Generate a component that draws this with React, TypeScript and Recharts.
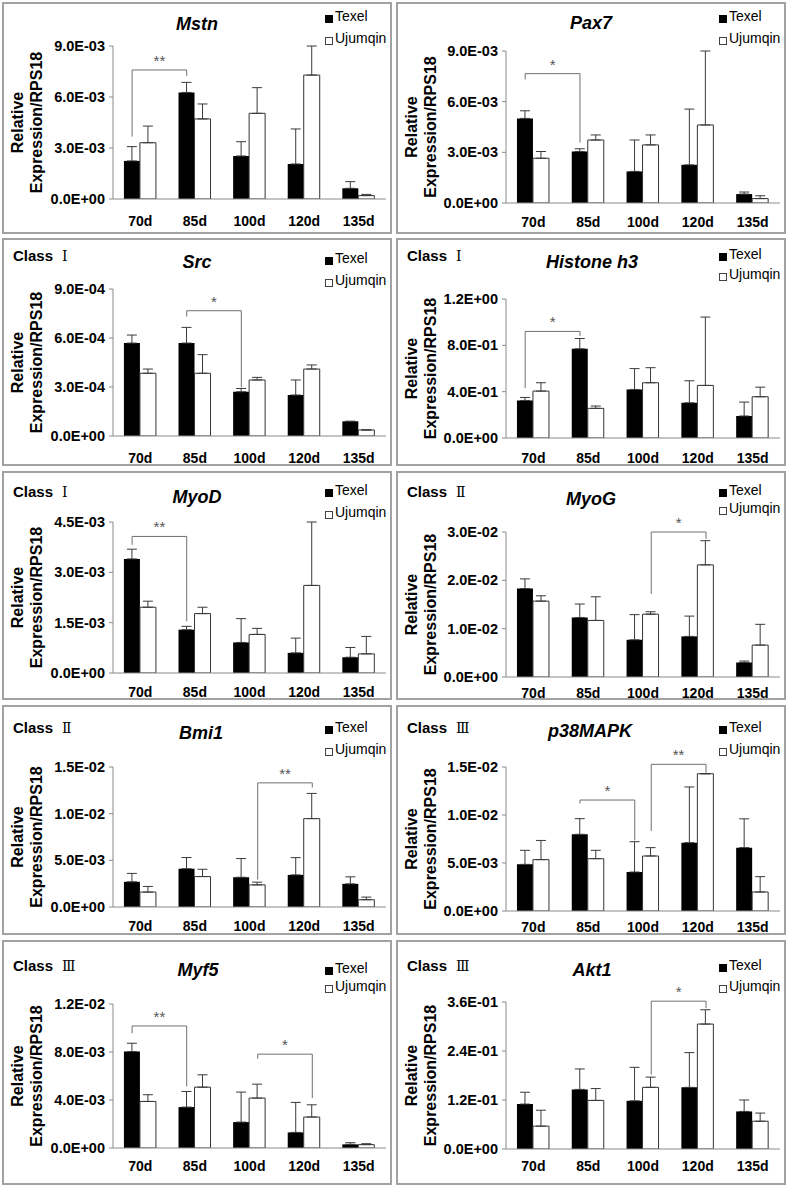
import React from 'react';
import { BarChart, Bar, XAxis, YAxis, ErrorBar, ReferenceLine, Legend } from 'recharts';

const FONT = '"Liberation Sans", Arial, Helvetica, sans-serif';

const categories = ['70d', '85d', '100d', '120d', '135d'];
const seriesNames = ['Texel', 'Ujumqin'];

// ---- Mstn ----
const mstnTexel = [2.24e-3, 6.27e-3, 2.53e-3, 2.06e-3, 0.63e-3];
const mstnTexelErr = [0.84e-3, 0.59e-3, 0.84e-3, 2.06e-3, 0.39e-3];
const mstnUjumqin = [3.31e-3, 4.71e-3, 5.04e-3, 7.29e-3, 0.2e-3];
const mstnUjumqinErr = [0.98e-3, 0.88e-3, 1.51e-3, 1.71e-3, 0.07e-3];
const mstnTicks = [0, 3e-3, 6e-3, 9e-3];
const mstnBrackets = [{ from: '70d', fromSeries: 'Texel', to: '85d', toSeries: 'Texel', top: 7.59e-3, fromEnd: 3.67e-3, toEnd: 7.24e-3, label: '**' }];

// ---- Pax7 ----
const pax7Texel = [5.01e-3, 3.05e-3, 1.87e-3, 2.26e-3, 0.53e-3];
const pax7TexelErr = [0.45e-3, 0.16e-3, 1.86e-3, 3.3e-3, 0.12e-3];
const pax7Ujumqin = [2.65e-3, 3.73e-3, 3.44e-3, 4.62e-3, 0.26e-3];
const pax7UjumqinErr = [0.4e-3, 0.3e-3, 0.59e-3, 4.38e-3, 0.17e-3];
const pax7Ticks = [0, 3e-3, 6e-3, 9e-3];
const pax7Brackets = [{ from: '70d', fromSeries: 'Texel', to: '85d', toSeries: 'Texel', top: 7.66e-3, fromEnd: 7.31e-3, toEnd: 3.58e-3, label: '*' }];

// ---- Src ----
const srcTexel = [5.69e-4, 5.69e-4, 2.71e-4, 2.51e-4, 0.9e-4];
const srcTexelErr = [0.49e-4, 0.96e-4, 0.2e-4, 0.92e-4, 0];
const srcUjumqin = [3.84e-4, 3.84e-4, 3.43e-4, 4.1e-4, 0.37e-4];
const srcUjumqinErr = [0.26e-4, 1.14e-4, 0.16e-4, 0.25e-4, 0];
const srcTicks = [0, 3e-4, 6e-4, 9e-4];
const srcBrackets = [{ from: '85d', fromSeries: 'Texel', to: '100d', toSeries: 'Texel', top: 7.67e-4, fromEnd: 7.31e-4, toEnd: 2.98e-4, label: '*' }];

// ---- Histone h3 ----
const h3Texel = [0.324, 0.77, 0.419, 0.304, 0.19];
const h3TexelErr = [0.026, 0.089, 0.18, 0.19, 0.12];
const h3Ujumqin = [0.405, 0.256, 0.477, 0.454, 0.356];
const h3UjumqinErr = [0.072, 0.02, 0.13, 0.59, 0.083];
const h3Ticks = [0, 0.4, 0.8, 1.2];
const h3Brackets = [{ from: '70d', fromSeries: 'Texel', to: '85d', toSeries: 'Texel', top: 0.92, fromEnd: 0.43, toEnd: 0.88, label: '*' }];

// ---- MyoD ----
const myodTexel = [3.4e-3, 1.29e-3, 0.91e-3, 0.6e-3, 0.47e-3];
const myodTexelErr = [0.29e-3, 0.1e-3, 0.71e-3, 0.44e-3, 0.29e-3];
const myodUjumqin = [1.96e-3, 1.77e-3, 1.15e-3, 2.61e-3, 0.57e-3];
const myodUjumqinErr = [0.18e-3, 0.19e-3, 0.18e-3, 1.89e-3, 0.52e-3];
const myodTicks = [0, 1.5e-3, 3e-3, 4.5e-3];
const myodBrackets = [{ from: '70d', fromSeries: 'Texel', to: '85d', toSeries: 'Texel', top: 4.07e-3, fromEnd: 3.82e-3, toEnd: 1.54e-3, label: '**' }];

// ---- MyoG ----
const myogTexel = [1.83e-2, 1.23e-2, 0.77e-2, 0.84e-2, 0.3e-2];
const myogTexelErr = [0.2e-2, 0.28e-2, 0.52e-2, 0.42e-2, 0.03e-2];
const myogUjumqin = [1.57e-2, 1.17e-2, 1.3e-2, 2.32e-2, 0.66e-2];
const myogUjumqinErr = [0.11e-2, 0.49e-2, 0.05e-2, 0.5e-2, 0.43e-2];
const myogTicks = [0, 1e-2, 2e-2, 3e-2];
const myogBrackets = [{ from: '100d', fromSeries: 'Ujumqin', to: '120d', toSeries: 'Ujumqin', top: 3.0e-2, fromEnd: 1.72e-2, toEnd: 2.86e-2, label: '*' }];

// ---- Bmi1 ----
const bmi1Texel = [2.7e-3, 4.1e-3, 3.19e-3, 3.44e-3, 2.48e-3];
const bmi1TexelErr = [0.9e-3, 1.2e-3, 2.0e-3, 1.85e-3, 0.75e-3];
const bmi1Ujumqin = [1.6e-3, 3.26e-3, 2.37e-3, 9.47e-3, 0.78e-3];
const bmi1UjumqinErr = [0.6e-3, 0.78e-3, 0.29e-3, 2.7e-3, 0.28e-3];
const bmi1Ticks = [0, 5e-3, 1e-2, 1.5e-2];
const bmi1Brackets = [{ from: '100d', fromSeries: 'Ujumqin', to: '120d', toSeries: 'Ujumqin', top: 1.33e-2, fromEnd: 2.94e-3, toEnd: 1.28e-2, label: '**' }];

// ---- p38MAPK ----
const p38Texel = [4.86e-3, 7.99e-3, 4.06e-3, 7.12e-3, 6.6e-3];
const p38TexelErr = [1.46e-3, 1.63e-3, 3.16e-3, 5.8e-3, 3.0e-3];
const p38Ujumqin = [5.35e-3, 5.45e-3, 5.73e-3, 14.3e-3, 1.98e-3];
const p38UjumqinErr = [2.0e-3, 0.87e-3, 0.87e-3, 0, 1.6e-3];
const p38Ticks = [0, 5e-3, 1e-2, 1.5e-2];
const p38Brackets = [
  { from: '85d', fromSeries: 'Texel', to: '100d', toSeries: 'Texel', top: 11.56e-3, fromEnd: 11.2e-3, toEnd: 7.36e-3, label: '*' },
  { from: '100d', fromSeries: 'Ujumqin', to: '120d', toSeries: 'Ujumqin', top: 15.28e-3, fromEnd: 8.33e-3, toEnd: 14.4e-3, label: '**' },
];

// ---- Myf5 ----
const myf5Texel = [8.04e-3, 3.41e-3, 2.16e-3, 1.3e-3, 0.3e-3];
const myf5TexelErr = [0.69e-3, 1.3e-3, 2.5e-3, 2.5e-3, 0.14e-3];
const myf5Ujumqin = [3.88e-3, 5.07e-3, 4.16e-3, 2.58e-3, 0.28e-3];
const myf5UjumqinErr = [0.56e-3, 1.03e-3, 1.16e-3, 1.02e-3, 0.08e-3];
const myf5Ticks = [0, 4e-3, 8e-3, 1.2e-2];
const myf5Brackets = [
  { from: '70d', fromSeries: 'Texel', to: '85d', toSeries: 'Texel', top: 10.17e-3, fromEnd: 9.56e-3, toEnd: 5.13e-3, label: '**' },
  { from: '100d', fromSeries: 'Ujumqin', to: '120d', toSeries: 'Ujumqin', top: 7.82e-3, fromEnd: 7.43e-3, toEnd: 4.16e-3, label: '*' },
];

// ---- Akt1 ----
const akt1Texel = [0.11, 0.146, 0.118, 0.151, 0.092];
const akt1TexelErr = [0.029, 0.05, 0.082, 0.085, 0.028];
const akt1Ujumqin = [0.056, 0.119, 0.151, 0.306, 0.068];
const akt1UjumqinErr = [0.039, 0.029, 0.025, 0.035, 0.02];
const akt1Ticks = [0, 0.12, 0.24, 0.36];
const akt1Brackets = [{ from: '100d', fromSeries: 'Ujumqin', to: '120d', toSeries: 'Ujumqin', top: 0.362, fromEnd: 0.182, toEnd: 0.345, label: '*' }];

const panels = [
  { gene: 'Mstn', cls: '', texel: mstnTexel, texelErr: mstnTexelErr, ujumqin: mstnUjumqin, ujumqinErr: mstnUjumqinErr, ticks: mstnTicks, brackets: mstnBrackets },
  { gene: 'Pax7', cls: '', texel: pax7Texel, texelErr: pax7TexelErr, ujumqin: pax7Ujumqin, ujumqinErr: pax7UjumqinErr, ticks: pax7Ticks, brackets: pax7Brackets },
  { gene: 'Src', cls: 'Ⅰ', texel: srcTexel, texelErr: srcTexelErr, ujumqin: srcUjumqin, ujumqinErr: srcUjumqinErr, ticks: srcTicks, brackets: srcBrackets },
  { gene: 'Histone h3', cls: 'Ⅰ', texel: h3Texel, texelErr: h3TexelErr, ujumqin: h3Ujumqin, ujumqinErr: h3UjumqinErr, ticks: h3Ticks, brackets: h3Brackets },
  { gene: 'MyoD', cls: 'Ⅰ', texel: myodTexel, texelErr: myodTexelErr, ujumqin: myodUjumqin, ujumqinErr: myodUjumqinErr, ticks: myodTicks, brackets: myodBrackets },
  { gene: 'MyoG', cls: 'Ⅱ', texel: myogTexel, texelErr: myogTexelErr, ujumqin: myogUjumqin, ujumqinErr: myogUjumqinErr, ticks: myogTicks, brackets: myogBrackets },
  { gene: 'Bmi1', cls: 'Ⅱ', texel: bmi1Texel, texelErr: bmi1TexelErr, ujumqin: bmi1Ujumqin, ujumqinErr: bmi1UjumqinErr, ticks: bmi1Ticks, brackets: bmi1Brackets },
  { gene: 'p38MAPK', cls: 'Ⅲ', texel: p38Texel, texelErr: p38TexelErr, ujumqin: p38Ujumqin, ujumqinErr: p38UjumqinErr, ticks: p38Ticks, brackets: p38Brackets },
  { gene: 'Myf5', cls: 'Ⅲ', texel: myf5Texel, texelErr: myf5TexelErr, ujumqin: myf5Ujumqin, ujumqinErr: myf5UjumqinErr, ticks: myf5Ticks, brackets: myf5Brackets },
  { gene: 'Akt1', cls: 'Ⅲ', texel: akt1Texel, texelErr: akt1TexelErr, ujumqin: akt1Ujumqin, ujumqinErr: akt1UjumqinErr, ticks: akt1Ticks, brackets: akt1Brackets },
];

// Layout (positions/sizes) kept separate from data
const layouts = [
  { x: 2, y: 2, h: 232, left: 111, top: 44, bottom: 197, titleX: 195, titleY: 28, classY: 0, legendY: 19, legendGap: 22, xGap: 17 },
  { x: 396, y: 2, h: 232, left: 110, top: 49, bottom: 201, titleX: 195, titleY: 27, classY: 0, legendY: 19, legendGap: 22, xGap: 14 },
  { x: 2, y: 238, h: 228, left: 111, top: 51, bottom: 198, titleX: 195, titleY: 30, classY: 23, legendY: 25, legendGap: 22, xGap: 17 },
  { x: 396, y: 238, h: 228, left: 110, top: 61, bottom: 200, titleX: 196, titleY: 30, classY: 23, legendY: 21, legendGap: 20, xGap: 15 },
  { x: 2, y: 471, h: 229, left: 111, top: 51, bottom: 202, titleX: 195, titleY: 32, classY: 26, legendY: 24, legendGap: 22, xGap: 14 },
  { x: 396, y: 471, h: 229, left: 110, top: 61, bottom: 206, titleX: 195, titleY: 34, classY: 26, legendY: 24, legendGap: 18, xGap: 11 },
  { x: 2, y: 705, h: 230, left: 111, top: 62, bottom: 202, titleX: 199, titleY: 34, classY: 28, legendY: 27, legendGap: 22, xGap: 14 },
  { x: 396, y: 705, h: 230, left: 110, top: 62, bottom: 206, titleX: 194, titleY: 32, classY: 28, legendY: 27, legendGap: 22, xGap: 11 },
  { x: 2, y: 940, h: 245, left: 111, top: 64, bottom: 208, titleX: 196, titleY: 36, classY: 31, legendY: 33, legendGap: 18, xGap: 13 },
  { x: 396, y: 940, h: 245, left: 110, top: 62, bottom: 209, titleX: 196, titleY: 36, classY: 31, legendY: 30, legendGap: 21, xGap: 12 },
];

const PANEL_W = 390;
const PLOT_RIGHT = 384;
const BAR_CENTER = { Texel: 0.35, Ujumqin: 0.65 } as Record<string, number>;
const AXIS_COLOR = '#8a8a8a';
const ERR_COLOR = '#3a3a3a';
const BRACKET_COLOR = '#6f6f6f';

const fmtSci = (v: number) => {
  if (v === 0) return '0.0E+00';
  const [m, e] = v.toExponential(1).split('e');
  const n = parseInt(e, 10);
  return `${m}E${n < 0 ? '-' : '+'}${String(Math.abs(n)).padStart(2, '0')}`;
};

// shape for a bracket segment: shifts the category-centred endpoints to the bar centres
const bracketShape = (dx1: number, dx2: number, label?: string) => (props: any) => {
  const { x1, y1, x2, y2 } = props;
  const ax = x1 + dx1;
  const bx = x2 + dx2;
  return (
    <g>
      <line x1={ax} y1={y1} x2={bx} y2={y2} stroke={BRACKET_COLOR} strokeWidth={1} />
      {label ? (
        <text x={(ax + bx) / 2} y={Math.min(y1, y2) - 4} textAnchor="middle" fontSize={15} fontFamily={FONT} fill="#555">{label}</text>
      ) : null}
    </g>
  );
};

const LegendBox = ({ gap }: { gap: number }) => (
  <svg width={80} height={50} style={{ display: 'block', overflow: 'visible' }}>
    <rect x={3} y={8} width={8} height={8} fill="#000" />
    <text x={13} y={14} fontSize={14} fontFamily={FONT} fill="#000">{seriesNames[0]}</text>
    <rect x={3.5} y={8.5 + gap} width={7} height={7} fill="#fff" stroke="#404040" />
    <text x={13} y={14 + gap} fontSize={14} fontFamily={FONT} fill="#000">{seriesNames[1]}</text>
  </svg>
);

function Panel({ p, L }: { p: any; L: any }) {
  const data = categories.map((c, i) => ({
    day: c,
    Texel: p.texel[i],
    Ujumqin: p.ujumqin[i],
    TexelErr: [0, p.texelErr[i]],
    UjumqinErr: [0, p.ujumqinErr[i]],
  }));
  const max = p.ticks[p.ticks.length - 1];
  const cy = (L.top + L.bottom) / 2;
  const band = (PLOT_RIGHT - L.left) / categories.length;
  const lines: any[] = [];
  p.brackets.forEach((b: any, k: number) => {
    const d1 = (BAR_CENTER[b.fromSeries] - 0.5) * band;
    const d2 = (BAR_CENTER[b.toSeries] - 0.5) * band;
    lines.push(
      <ReferenceLine key={`a${k}`} ifOverflow="visible"
        segment={[{ x: b.from, y: b.fromEnd }, { x: b.from, y: b.top }]} shape={bracketShape(d1, d1)} />,
      <ReferenceLine key={`b${k}`} ifOverflow="visible"
        segment={[{ x: b.from, y: b.top }, { x: b.to, y: b.top }]} shape={bracketShape(d1, d2, b.label)} />,
      <ReferenceLine key={`c${k}`} ifOverflow="visible"
        segment={[{ x: b.to, y: b.top }, { x: b.to, y: b.toEnd }]} shape={bracketShape(d2, d2)} />
    );
  });
  return (
    <div style={{ position: 'absolute', left: L.x, top: L.y, width: PANEL_W, height: L.h }}>
      <BarChart width={PANEL_W} height={L.h} data={data}
        margin={{ top: L.top, right: PANEL_W - PLOT_RIGHT, bottom: 0, left: 0 }}
        barCategoryGap="20%" barGap={0}>
        <XAxis dataKey="day" height={L.h - L.bottom} tickLine={false} tickSize={0} tickMargin={L.xGap}
          axisLine={{ stroke: AXIS_COLOR }} interval={0}
          tick={{ fill: '#000', fontSize: 14, fontWeight: 'bold', fontFamily: FONT }} />
        <YAxis domain={[0, max]} ticks={p.ticks} allowDataOverflow width={L.left} interval={0}
          tickFormatter={fmtSci} tickSize={4} tickMargin={4}
          axisLine={{ stroke: AXIS_COLOR }} tickLine={{ stroke: AXIS_COLOR }}
          tick={{ fill: '#000', fontSize: 14.5, fontWeight: 'bold', fontFamily: FONT }} />
        <Bar dataKey="Texel" fill="#000" isAnimationActive={false}>
          <ErrorBar dataKey="TexelErr" direction="y" width={5} stroke={ERR_COLOR} strokeWidth={1} isAnimationActive={false} />
        </Bar>
        <Bar dataKey="Ujumqin" fill="#fff" stroke="#333" strokeWidth={1} isAnimationActive={false}>
          <ErrorBar dataKey="UjumqinErr" direction="y" width={5} stroke={ERR_COLOR} strokeWidth={1} isAnimationActive={false} />
        </Bar>
        {lines}
        <Legend layout="horizontal" verticalAlign="middle" align="center"
          wrapperStyle={{ left: 320, top: L.legendY - 14, width: 80, height: 50 }}
          content={() => <LegendBox gap={L.legendGap} />} />
      </BarChart>
      <svg width={PANEL_W} height={L.h} style={{ position: 'absolute', left: 0, top: 0, pointerEvents: 'none' }}>
        <text x={L.titleX} y={L.titleY} textAnchor="middle" fontFamily={FONT} fontWeight="bold" fontStyle="italic" fontSize={18} fill="#000">{p.gene}</text>
        {p.cls && (
          <g>
            <text x={11} y={L.classY} fontFamily={FONT} fontWeight="bold" fontSize={15} fill="#000">Class</text>
            <text x={60} y={L.classY} fontFamily={'"DejaVu Serif", "Noto Sans CJK SC", serif'} fontSize={14} fill="#000">{p.cls}</text>
          </g>
        )}
        <text transform={`translate(21, ${cy}) rotate(-90)`} textAnchor="middle" fontFamily={FONT} fontWeight="bold" fontSize={16} fill="#000">
          <tspan x={0} y={0}>Relative</tspan>
          <tspan x={0} y={19}>Expression/RPS18</tspan>
        </text>
      </svg>
      <div style={{ position: 'absolute', left: 0, top: 0, width: PANEL_W, height: L.h, border: '2px solid #a2a2a2', boxSizing: 'border-box', pointerEvents: 'none' }} />
    </div>
  );
}

export default function App() {
  return (
    <div style={{ position: 'absolute', left: 0, top: 0, width: 789, height: 1187, background: '#fff', fontFamily: FONT }}>
      {panels.map((p, i) => (
        <Panel key={p.gene} p={p} L={layouts[i]} />
      ))}
    </div>
  );
}
